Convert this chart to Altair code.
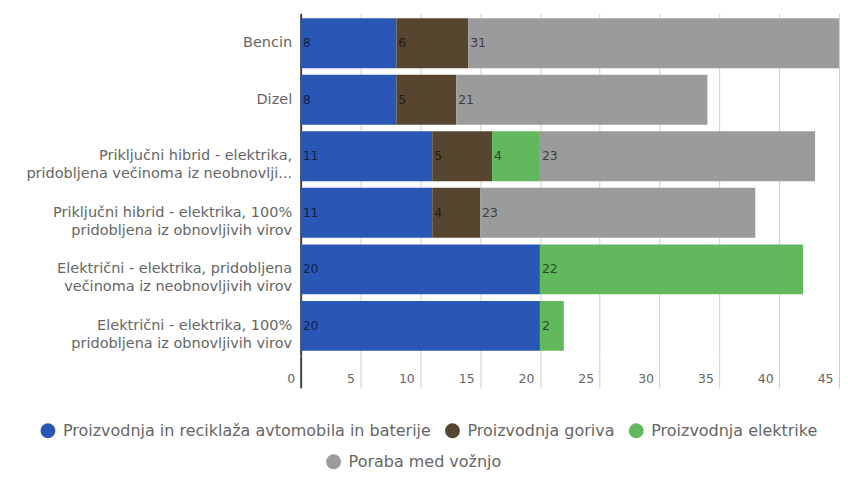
import altair as alt
import pandas as pd

categories = [
    "Bencin",
    "Dizel",
    "Priključni hibrid - elektrika,|pridobljena večinoma iz neobnovlji...",
    "Priključni hibrid - elektrika, 100%|pridobljena iz obnovljivih virov",
    "Električni - elektrika, pridobljena|večinoma iz neobnovljivih virov",
    "Električni - elektrika, 100%|pridobljena iz obnovljivih virov",
]
series_names = [
    "Proizvodnja in reciklaža avtomobila in baterije",
    "Proizvodnja goriva",
    "Proizvodnja elektrike",
    "Poraba med vožnjo",
]
vehicle = [8, 8, 11, 11, 20, 20]
fuel = [6, 5, 5, 4, 0, 0]
electricity = [0, 0, 4, 0, 22, 2]
driving = [31, 21, 23, 23, 0, 0]
colors = ["#2a56b6", "#56452f", "#62b85c", "#9b9b9b"]
x_ticks = [0, 5, 10, 15, 20, 25, 30, 35, 40, 45]

rows = []
for si, vals in enumerate([vehicle, fuel, electricity, driving]):
    for ci, c in enumerate(categories):
        rows.append({"cat": c, "series": series_names[si], "order": si, "value": vals[ci]})
df = pd.DataFrame(rows)

FONT = "DejaVu Sans"

base = (
    alt.Chart(df)
    .transform_stack(stack="value", groupby=["cat"], as_=["x0", "x1"], sort=[alt.SortField("order")])
    .transform_filter("datum.value > 0")
)

xenc = alt.X(
    "x0:Q",
    scale=alt.Scale(domain=[0, 45], nice=False, zero=True),
    axis=alt.Axis(
        title=None,
        values=x_ticks,
        domain=False,
        grid=True,
        gridColor="#cfcfcf",
        ticks=True,
        tickSize=32,
        tickColor={"condition": {"test": "datum.value === 0", "value": "#444444"}, "value": "#cfcfcf"},
        tickWidth={"condition": {"test": "datum.value === 0", "value": 2}, "value": 1},
        labelAlign="right",
        labelBaseline="top",
        labelPadding=-15,
        labelOffset=-6,
        labelFlush=False,
        labelFontSize=12.5,
        labelColor="#666666",
        labelFont=FONT,
    ),
)
yenc = alt.Y(
    "cat:N",
    sort=categories,
    scale=alt.Scale(paddingInner=0.117, paddingOuter=0.09),
    axis=alt.Axis(
        title=None,
        labelExpr="split(datum.label, '|')",
        ticks=False,
        domain=True,
        domainColor="#444444",
        domainWidth=2,
        labelPadding=9,
        labelLimit=300,
        labelFontSize=14.5,
        labelColor="#666666",
        labelFont=FONT,
        labelLineHeight=18,
        minExtent=293,
        maxExtent=293,
    ),
)

legend_common = dict(
    title=None,
    orient="none",
    direction="horizontal",
    symbolType="circle",
    symbolSize=220,
    symbolStrokeWidth=0,
    labelFontSize=16,
    labelColor="#666666",
    labelFont=FONT,
    labelOffset=7,
    labelLimit=500,
)

bars_a = base.transform_filter(alt.FieldOneOfPredicate(field="series", oneOf=series_names[:3])).mark_bar().encode(
    x=xenc,
    x2="x1:Q",
    y=yenc,
    color=alt.Color(
        "series:N",
        scale=alt.Scale(domain=series_names[:3], range=colors[:3]),
        legend=alt.Legend(legendX=-261, legendY=410, columnPadding=13, **legend_common),
    ),
)
bars_b = base.transform_filter(alt.FieldEqualPredicate(field="series", equal=series_names[3])).mark_bar().encode(
    x=xenc,
    x2="x1:Q",
    y=yenc,
    color=alt.Color(
        "series2:N",
        scale=alt.Scale(domain=series_names[3:], range=colors[3:]),
        legend=alt.Legend(legendX=25, legendY=441, **legend_common),
    ),
).transform_calculate(series2="datum.series")

labels = base.mark_text(align="left", baseline="middle", dx=2, fontSize=12.5, font=FONT, color="#000000", opacity=0.6).encode(
    x=alt.X("x0:Q"),
    y=alt.Y("cat:N", sort=categories),
    text=alt.Text("value:Q", format="d"),
)

chart = (
    alt.layer(bars_a, bars_b, labels)
    .resolve_scale(color="independent")
    .properties(width=539, height=343, padding={"left": 0, "top": 5, "right": 0, "bottom": 0})
    .configure_view(stroke=None)
)

chart.save("out.html", embed_options={"renderer": "svg", "actions": False})
